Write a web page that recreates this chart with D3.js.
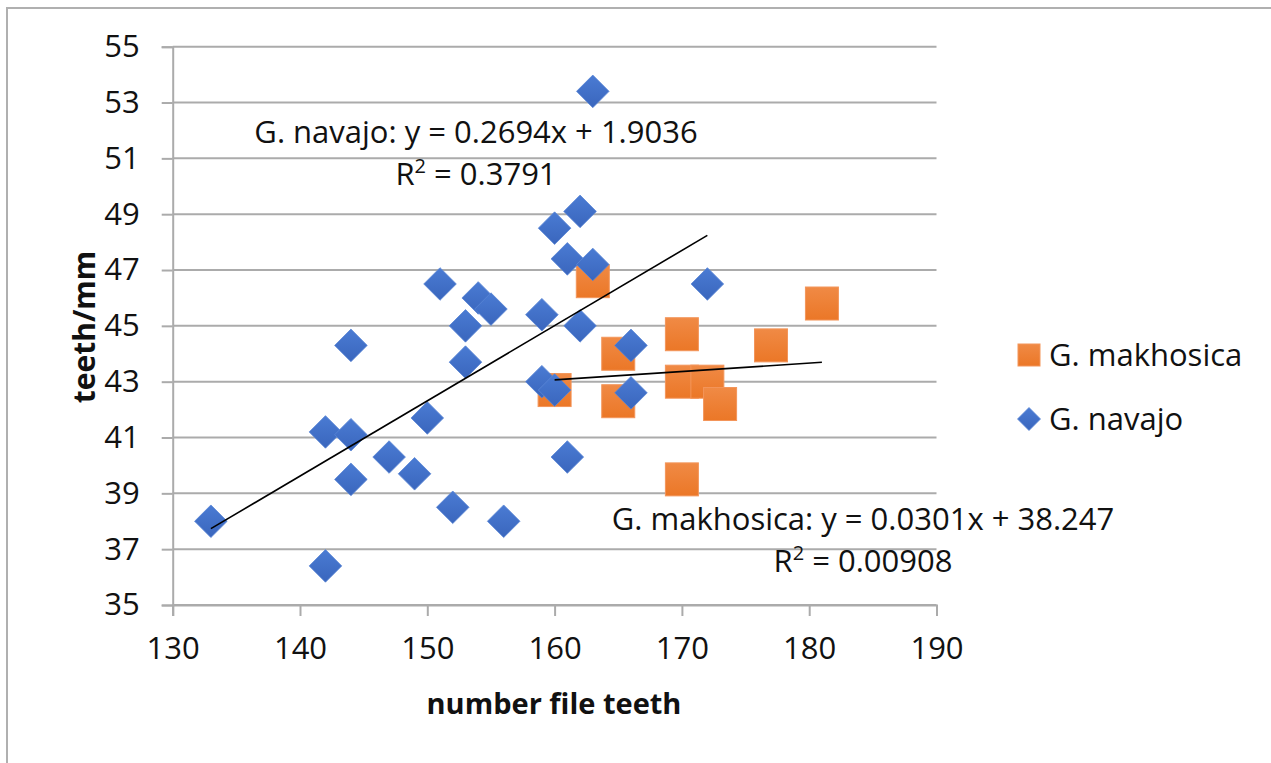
<!DOCTYPE html>
<html>
<head>
<meta charset="utf-8">
<script src="https://cdn.jsdelivr.net/npm/d3@7"></script>
<style>
  html, body { margin: 0; padding: 0; background: #fff; }
  svg { display: block; font-family: "Open Sans", sans-serif; }
</style>
</head>
<body>
<svg id="chart" width="1271" height="763"></svg>
<script>
// ---- data ----
const xTicks = [130, 140, 150, 160, 170, 180, 190];
const yTicks = [35, 37, 39, 41, 43, 45, 47, 49, 51, 53, 55];

const navajoX = [133, 142, 142, 144, 144, 144, 147, 149, 150, 151, 152, 153, 153, 154, 155, 156, 159, 159, 160, 160, 161, 161, 162, 162, 163, 163, 166, 166, 172];
const navajoY = [38.0, 36.4, 41.2, 44.3, 41.1, 39.5, 40.3, 39.7, 41.7, 46.5, 38.5, 45.0, 43.7, 46.0, 45.6, 38.0, 45.4, 43.0, 48.5, 42.7, 47.4, 40.3, 49.1, 45.0, 53.4, 47.2, 44.3, 42.6, 46.5];

const makhX = [160, 163, 165, 165, 170, 170, 170, 172, 173, 177, 181];
const makhY = [42.7, 46.6, 44.0, 42.3, 44.7, 43.0, 39.5, 43.0, 42.2, 44.3, 45.8];

const seriesNames = ["G. makhosica", "G. navajo"];
const navajoFit = { slope: 0.2694, intercept: 1.9036, r2: "0.3791" };
const makhFit = { slope: 0.0301, intercept: 38.247, r2: "0.00908" };
const navajoLabel = "G. navajo: y = 0.2694x + 1.9036";
const makhLabel = "G. makhosica: y = 0.0301x + 38.247";

// ---- layout ----
const svg = d3.select("#chart");
const gridCol = "#ABABAB";
const fs = 31;

const x = d3.scaleLinear().domain([130, 190]).range([172.7, 936.5]);
const y = d3.scaleLinear().domain([35, 55]).range([605, 46.7]);

// outer border
svg.append("rect").attr("x", 7).attr("y", 8).attr("width", 1300).attr("height", 800)
  .attr("fill", "#fff").attr("stroke", "#B0B0B0").attr("stroke-width", 2);

// grid lines
svg.append("g").selectAll("line").data(yTicks).join("line")
  .attr("x1", x(130)).attr("x2", x(190))
  .attr("y1", d => y(d)).attr("y2", d => y(d))
  .attr("stroke", gridCol).attr("stroke-width", 2);

// y axis
const yAxis = svg.append("g").attr("transform", `translate(${x(130)},0)`)
  .call(d3.axisLeft(y).tickValues(yTicks).tickSize(11).tickPadding(22).tickFormat(d3.format("d")));
yAxis.select(".domain").attr("stroke", gridCol).attr("stroke-width", 2);
yAxis.selectAll(".tick line").attr("stroke", gridCol).attr("stroke-width", 2);
yAxis.selectAll("text").attr("font-size", fs).attr("fill", "#111").attr("font-family", "Open Sans");

// x axis
const xAxis = svg.append("g").attr("transform", `translate(0,${y(35)})`)
  .call(d3.axisBottom(x).tickValues(xTicks).tickSize(11).tickPadding(21).tickFormat(d3.format("d")));
xAxis.select(".domain").attr("stroke", gridCol).attr("stroke-width", 2);
xAxis.selectAll(".tick line").attr("stroke", gridCol).attr("stroke-width", 2);
xAxis.selectAll("text").attr("font-size", fs).attr("fill", "#111").attr("font-family", "Open Sans");

// axis titles
svg.append("text").attr("x", 554).attr("y", 714).attr("text-anchor", "middle")
  .attr("font-size", 29).attr("font-weight", "bold").attr("fill", "#111").text("number file teeth");
svg.append("text").attr("transform", "translate(95,327) rotate(-90)").attr("text-anchor", "middle")
  .attr("font-size", 30).attr("font-weight", "bold").attr("fill", "#111").text("teeth/mm");

// markers
const defs = svg.append("defs");
const gB = defs.append("linearGradient").attr("id", "gb").attr("x1", 0).attr("y1", 0).attr("x2", 0).attr("y2", 1);
gB.append("stop").attr("offset", "0").attr("stop-color", "#4A7BD3");
gB.append("stop").attr("offset", "1").attr("stop-color", "#3A66BD");
const gO = defs.append("linearGradient").attr("id", "go").attr("x1", 0).attr("y1", 0).attr("x2", 0).attr("y2", 1);
gO.append("stop").attr("offset", "0").attr("stop-color", "#F08A45");
gO.append("stop").attr("offset", "1").attr("stop-color", "#EB7727");

const sq = 33, dia = 16.3;
svg.append("g").selectAll("rect").data(d3.zip(makhX, makhY)).join("rect")
  .attr("x", d => x(d[0]) - sq / 2).attr("y", d => y(d[1]) - sq / 2)
  .attr("width", sq).attr("height", sq)
  .attr("fill", "url(#go)").attr("stroke", "#F3955A").attr("stroke-width", 1);

const diamondPath = r => `M0,${-r}L${r},0L0,${r}L${-r},0Z`;
svg.append("g").selectAll("path").data(d3.zip(navajoX, navajoY)).join("path")
  .attr("transform", d => `translate(${x(d[0])},${y(d[1])})`)
  .attr("d", diamondPath(dia))
  .attr("fill", "url(#gb)").attr("stroke", "#5A86D6").attr("stroke-width", 0.8);

// trend lines (from fitted coefficients, over each series' x range)
function trend(xs, fit) {
  const [a, b] = d3.extent(xs);
  svg.append("line")
    .attr("x1", x(a)).attr("y1", y(fit.slope * a + fit.intercept))
    .attr("x2", x(b)).attr("y2", y(fit.slope * b + fit.intercept))
    .attr("stroke", "#000").attr("stroke-width", 1.6);
}
trend(navajoX, navajoFit);
trend(makhX, makhFit);

// trend labels
function label(cx, by, line1, r2) {
  svg.append("text").attr("x", cx).attr("y", by).attr("text-anchor", "middle")
    .attr("font-size", fs).attr("fill", "#111").text(line1);
  const t2 = svg.append("text").attr("x", cx).attr("y", by + 42.5).attr("text-anchor", "middle")
    .attr("font-size", fs).attr("fill", "#111");
  t2.append("tspan").text("R");
  t2.append("tspan").attr("font-size", 20).attr("dy", -12).text("2");
  t2.append("tspan").attr("dy", 12).text(" = " + r2);
}
label(476, 142.5, navajoLabel, navajoFit.r2);
label(863, 529.5, makhLabel, makhFit.r2);

// legend
const lg = svg.append("g");
lg.append("rect").attr("x", 1018).attr("y", 344).attr("width", 22).attr("height", 22)
  .attr("fill", "url(#go)").attr("stroke", "#F3955A").attr("stroke-width", 1);
lg.append("text").attr("x", 1049).attr("y", 366).attr("font-size", fs).attr("fill", "#111").text(seriesNames[0]);
lg.append("path").attr("transform", "translate(1029,419)").attr("d", diamondPath(11.5))
  .attr("fill", "url(#gb)").attr("stroke", "#5A86D6").attr("stroke-width", 0.8);
lg.append("text").attr("x", 1049).attr("y", 430).attr("font-size", fs).attr("fill", "#111").text(seriesNames[1]);
</script>
</body>
</html>
